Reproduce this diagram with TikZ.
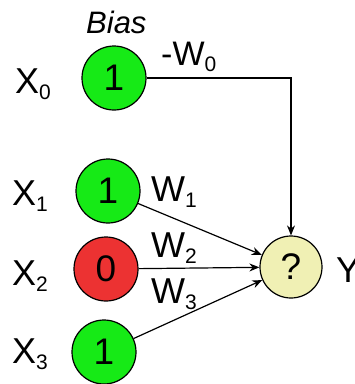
\documentclass[tikz,border=0pt]{standalone}
\usepackage{fontspec}
\setmainfont{Liberation Sans}
\usetikzlibrary{arrows.meta}

\definecolor{ongreen}{RGB}{22,234,22}
\definecolor{offred}{RGB}{236,50,50}
\definecolor{outyellow}{RGB}{240,240,180}

% lowered small index for X_i and W_i
\newcommand{\idx}[1]{\raisebox{-6pt}{\fontsize{21}{21}\selectfont #1}}

\begin{document}
\begin{tikzpicture}[x=1pt, y=-1pt,
  unit/.style={circle, draw, line width=1.2pt, minimum size=64pt, inner sep=0pt, font=\fontsize{37}{37}\selectfont},
  lbl/.style={anchor=base west, inner sep=0pt, font=\fontsize{36}{36}\selectfont},
  wire/.style={black, line width=1.2pt, -{Stealth[length=10pt,width=8pt]}}]
  \useasboundingbox (0,0) rectangle (355,384);

  % inputs and output
  \node[unit, fill=ongreen] (x0) at (114,78) {1};
  \node[unit, fill=ongreen] (x1) at (108,191) {1};
  \node[unit, fill=offred] (x2) at (106,269) {0};
  \node[unit, fill=ongreen] (x3) at (104,352) {1};
  \node[unit, fill=outyellow, minimum size=62pt] (y) at (291,267) {?};

  % names
  \node[lbl, font=\fontsize{31}{31}\itshape] (bias) at (86,33) {Bias};
  \node[lbl] (nx0) at (15,93) {X\idx{0}};
  \node[lbl] (nx1) at (12,205) {X\idx{1}};
  \node[lbl] (nx2) at (12,285) {X\idx{2}};
  \node[lbl] (nx3) at (12,363) {X\idx{3}};
  \node[lbl] (ny) at (336,282) {Y};

  % weights
  \node[lbl, font=\fontsize{34}{34}\selectfont] (w0) at (161,65) {-W\idx{0}};
  \node[lbl] (w1) at (151,201) {W\idx{1}};
  \node[lbl] (w2) at (151,257) {W\idx{2}};
  \node[lbl] (w3) at (151,303) {W\idx{3}};

  \draw[wire] (x0) -| (y);
  \draw[wire] (x1) -- (y);
  \draw[wire] (x2) -- (y);
  \draw[wire] (x3) -- (y);
\end{tikzpicture}
\end{document}
